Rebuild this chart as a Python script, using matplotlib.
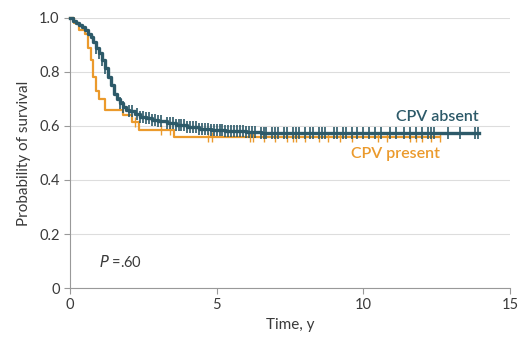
import numpy as np
import matplotlib
matplotlib.use("Agg")
import matplotlib.pyplot as plt

# CPV absent: step times and survival
absent_t = [0, 0.1, 0.2, 0.3, 0.4, 0.5, 0.6, 0.7, 0.8, 0.9, 1.0, 1.1, 1.2, 1.3, 1.4, 1.5,
            1.6, 1.7, 1.8, 1.9, 2.0, 2.2, 2.4, 2.6, 2.8, 3.0, 3.3, 3.6, 4.0, 4.4, 4.8,
            5.3, 6.0, 6.5, 7.8, 13.95]
absent_s = [1.0, 0.99, 0.98, 0.975, 0.965, 0.955, 0.94, 0.93, 0.91, 0.89, 0.87, 0.845,
            0.815, 0.78, 0.75, 0.72, 0.70, 0.685, 0.67, 0.66, 0.655, 0.645, 0.635, 0.628,
            0.622, 0.617, 0.61, 0.603, 0.595, 0.589, 0.584, 0.58, 0.577, 0.575, 0.574, 0.574]
absent_cens = [0.9, 1.0, 1.1, 1.2, 1.7, 1.8, 2.0, 2.1, 2.3, 2.4, 2.5, 2.6, 2.7, 2.8, 2.9,
               3.0, 3.1, 3.3, 3.4, 3.5, 3.6, 3.7, 3.8, 3.9, 4.0, 4.1, 4.2, 4.3, 4.4, 4.5,
               4.6, 4.7, 4.8, 4.9, 5.0, 5.1, 5.2, 5.3, 5.4, 5.5, 5.6, 5.7, 5.8, 5.9, 6.0,
               6.1, 6.2, 6.3, 6.5, 6.6, 6.7, 6.9, 7.0, 7.1, 7.3, 7.4, 7.6, 7.7, 7.8, 8.0,
               8.2, 8.3, 8.5, 8.6, 8.7, 9.0, 9.1, 9.3, 9.4, 9.6, 9.8, 10.0, 10.2, 10.4,
               10.6, 10.9, 11.1, 11.4, 11.6, 11.8, 12.0, 12.2, 12.3, 12.4, 12.9, 13.3,
               13.8, 13.9]

# CPV present
present_t = [0, 0.15, 0.3, 0.5, 0.6, 0.7, 0.8, 0.9, 1.0, 1.2, 1.8, 2.1, 2.35, 3.55, 12.6]
present_s = [1.0, 0.98, 0.955, 0.94, 0.89, 0.845, 0.78, 0.73, 0.70, 0.66, 0.64, 0.615,
             0.585, 0.558, 0.558]
present_cens = [2.2, 3.1, 3.4, 4.7, 4.85, 6.15, 6.25, 6.6, 7.0, 7.4, 7.6, 7.7, 8.0, 8.5,
                8.8, 9.2, 9.6, 10.5, 10.8, 11.6, 11.8, 12.0, 12.3, 12.6]

teal = "#2d5a69"
orange = "#eb9a2c"
txt = "#3a3a3a"

plt.rcParams["font.family"] = ["Lato", "DejaVu Sans"]

fig = plt.figure(figsize=(5.2, 3.39), dpi=100)
ax = fig.add_axes([0.1346, 0.1504, 0.846, 0.7966])


def step_val(t, xs, ys):
    i = np.searchsorted(xs, t, side="right") - 1
    return ys[i]


ax.step(present_t, present_s, where="post", color=orange, lw=1.6, clip_on=False, zorder=3)
ax.plot(present_cens, [step_val(c, present_t, present_s) for c in present_cens],
        ls="none", marker="|", ms=7, mew=1.0, color=orange, zorder=3)

ax.step(absent_t, absent_s, where="post", color=teal, lw=2.4, clip_on=False, zorder=4)
ax.plot(absent_cens, [step_val(c, absent_t, absent_s) for c in absent_cens],
        ls="none", marker="|", ms=9, mew=1.2, color=teal, zorder=4)

ax.set_xlim(0, 15)
ax.set_ylim(0, 1.0)
ax.set_xticks([0, 5, 10, 15])
ax.set_yticks([0, 0.2, 0.4, 0.6, 0.8, 1.0])
ax.set_yticklabels(["0", "0.2", "0.4", "0.6", "0.8", "1.0"])
ax.yaxis.grid(True, color="#dddddd", lw=0.8)
ax.set_axisbelow(True)
for s in ["top", "right"]:
    ax.spines[s].set_visible(False)
for s in ["left", "bottom"]:
    ax.spines[s].set_color("#999999")
ax.tick_params(colors="#999999", labelcolor=txt, labelsize=10.5, length=4)

ax.set_xlabel("Time, y", fontsize=11, color=txt, labelpad=4)
ax.set_ylabel("Probability of survival", fontsize=11, color=txt, labelpad=6)

ax.text(13.95, 0.635, "CPV absent", color=teal, fontsize=11.5, fontweight="semibold",
        ha="right", va="center")
ax.text(12.6, 0.495, "CPV present", color=orange, fontsize=11.5, fontweight="semibold",
        ha="right", va="center")
ax.text(1.0, 0.095, "$\\it{P}$ =.60", color=txt, fontsize=10.5, ha="left", va="center")

fig.savefig("out.png", dpi=100)
